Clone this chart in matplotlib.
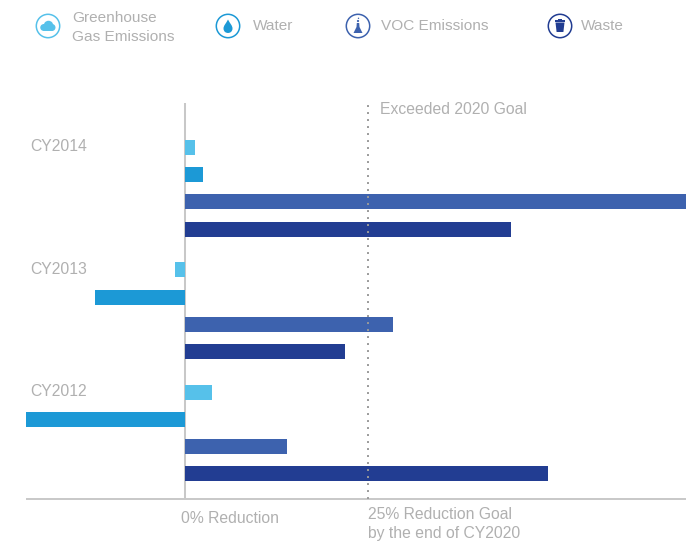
import matplotlib.pyplot as plt
import numpy as np
from matplotlib.patches import Circle, Ellipse, Polygon, PathPatch
from matplotlib.path import Path

plt.rcParams['font.family'] = ['Liberation Sans', 'DejaVu Sans']

years = ['CY2014', 'CY2013', 'CY2012']
series = ['Greenhouse\nGas Emissions', 'Water', 'VOC Emissions', 'Waste']
colors = ['#56c1ea', '#1c99d6', '#3d62ae', '#223d92']
# % reduction per year, one list per series
ghg = [1.4, -1.4, 3.7]
water = [2.5, -12.3, -21.7]
voc = [68.4, 28.4, 13.9]
waste = [44.5, 21.9, 49.6]
goal = 25

W, H = 686, 543
grey = '#b0b0b0'
line_grey = '#c8c8c8'

fig = plt.figure(figsize=(W / 100, H / 100), dpi=100)
ax = fig.add_axes([26 / W, 1 - 499 / H, 660 / W, 396 / H])

# rows counted downwards, 4 bars in each year
row_pitch = 27.2
group_pitch = 122.4 / row_pitch
for s, vals in enumerate([ghg, water, voc, waste]):
    ypos = np.arange(len(years)) * group_pitch + s
    ax.barh(ypos, vals, height=15 / row_pitch, color=colors[s], zorder=3)

ax.set_xlim(-21.7, 68.4)
ax.set_ylim(351.55 / row_pitch, -44.45 / row_pitch)
ax.set_xticks([])
ax.set_yticks([])
for side in ['top', 'right', 'left']:
    ax.spines[side].set_visible(False)
ax.spines['bottom'].set_color(line_grey)
ax.spines['bottom'].set_linewidth(1.4)
ax.spines['bottom'].set_capstyle('butt')
ax.axvline(0, color=line_grey, lw=1.45, zorder=2)
ax.axvline(goal, color='#9a9a9a', lw=1.4, ls=(0, (1, 2.6)), zorder=4)

# overlay in pixels for the texts and legend icons
ov = fig.add_axes([0, 0, 1, 1])
ov.set_xlim(0, W)
ov.set_ylim(H, 0)
ov.axis('off')
ov.patch.set_alpha(0)

fs = 11.35
for yr, y in zip(years, [146.5, 269.5, 391.5]):
    ov.text(30.5, y, yr, color=grey, fontsize=fs, va='center')
ov.text(380.5, 110, 'Exceeded 2020 Goal', color=grey, fontsize=fs, va='center')
ov.text(181, 518.5, '0% Reduction', color=grey, fontsize=fs, va='center')
ov.text(368, 514.5, '25% Reduction Goal', color=grey, fontsize=fs, va='center')
ov.text(368, 533.5, 'by the end of CY2020', color=grey, fontsize=fs, va='center')

legend_text_x = [72, 253, 381, 581]
legend_text_y = [27.5, 26.5, 26.5, 26.5]
icon_x = [48, 228, 358, 560]
for name, tx, ty in zip(series, legend_text_x, legend_text_y):
    ov.text(tx, ty, name, color=grey, fontsize=11.1, va='center', linespacing=1.5)

for cx, c in zip(icon_x, colors):
    ov.add_patch(Circle((cx, 26), 11.7, fc='white', ec=c, lw=1.1))

# cloud
cx, c = icon_x[0], colors[0]
ov.add_patch(Ellipse((cx - 4, 27.5), 7.5, 7, color=c, lw=0))
ov.add_patch(Ellipse((cx + 0.5, 25.5), 9.5, 9.5, color=c, lw=0))
ov.add_patch(Ellipse((cx + 4, 27.5), 7, 7, color=c, lw=0))
ov.add_patch(Polygon([(cx - 4, 27), (cx + 4, 27), (cx + 4, 31), (cx - 4, 31)], color=c, lw=0))

# drop
cx, c = icon_x[1], colors[1]
drop = Path([(cx, 19.5), (cx - 2, 23.5), (cx - 4.5, 25.5), (cx - 4.5, 28.5), (cx - 4.5, 34.5), (cx + 4.5, 34.5),
             (cx + 4.5, 28.5), (cx + 4.5, 25.5), (cx + 2, 23.5), (cx, 19.5)],
            [Path.MOVETO, Path.CURVE4, Path.CURVE4, Path.CURVE4, Path.CURVE4, Path.CURVE4, Path.CURVE4,
             Path.CURVE4, Path.CURVE4, Path.CURVE4])
ov.add_patch(PathPatch(drop, fc=c, ec='none'))

# flask
cx, c = icon_x[2], colors[2]
ov.add_patch(Polygon([(cx - 1.2, 23), (cx + 1.2, 23), (cx + 1.5, 27), (cx + 4.5, 33), (cx - 4.5, 33), (cx - 1.5, 27)],
                     color=c, lw=0))
ov.add_patch(Circle((cx, 21), 1.1, color=c, lw=0))
ov.add_patch(Circle((cx + 0.5, 18.3), 0.7, color=c, lw=0))

# bin
cx, c = icon_x[3], colors[3]
ov.add_patch(Polygon([(cx - 4.5, 22.5), (cx + 4.5, 22.5), (cx + 3.4, 32), (cx - 3.4, 32)], color=c, lw=0))
ov.add_patch(Polygon([(cx - 5, 20.3), (cx + 5, 20.3), (cx + 5, 21.7), (cx - 5, 21.7)], color=c, lw=0))
ov.add_patch(Polygon([(cx - 2, 19), (cx + 2, 19), (cx + 2, 20.3), (cx - 2, 20.3)], color=c, lw=0))

fig.savefig('out.png', dpi=100)
